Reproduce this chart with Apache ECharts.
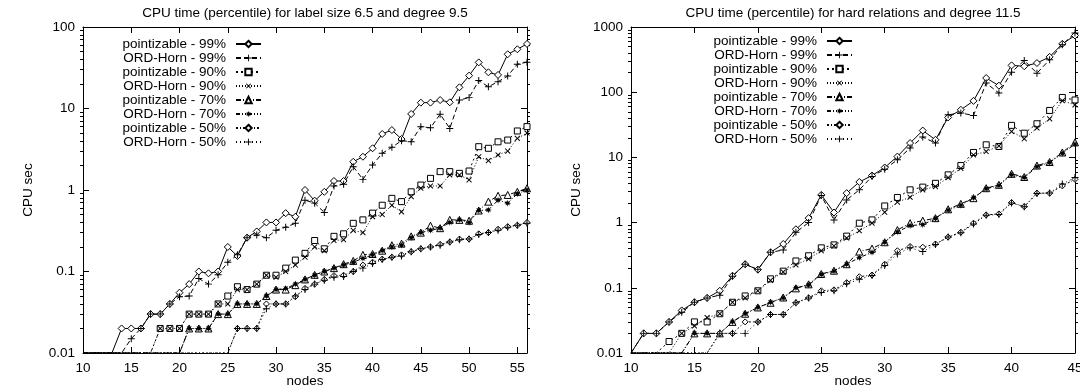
<!DOCTYPE html>
<html>
<head>
<meta charset="utf-8">
<script src="https://cdn.jsdelivr.net/npm/echarts@6/dist/echarts.min.js"></script>
<style>
  html, body { margin: 0; padding: 0; background: #fff; }
  #chart { width: 1080px; height: 390px; }
</style>
</head>
<body>
<div id="chart"></div>
<script>
// left plot: label size 6.5, degree 9.5
var nodesL = [10, 11, 12, 13, 14, 15, 16, 17, 18, 19, 20, 21, 22, 23, 24, 25, 26, 27, 28, 29,
  30, 31, 32, 33, 34, 35, 36, 37, 38, 39, 40, 41, 42, 43, 44, 45, 46, 47, 48, 49, 50, 51, 52, 53, 54, 55, 56];
var p99L = [0.01, 0.01, 0.01, 0.01, 0.02, 0.02, 0.02, 0.03, 0.03, 0.04,
  0.055, 0.07, 0.1, 0.095, 0.1, 0.2, 0.155, 0.26, 0.31, 0.4,
  0.4, 0.52, 0.47, 1.0, 0.74, 0.95, 1.29, 1.29, 2.22, 2.56,
  3.25, 4.87, 5.44, 4.22, 8.57, 11.8, 11.8, 12.7, 11.9, 18.2,
  25.3, 36.8, 27.8, 25.8, 46.3, 53.3, 62];
var o99L = [0.01, 0.01, 0.01, 0.01, 0.01, 0.015, 0.02, 0.03, 0.03, 0.04,
  0.049, 0.05, 0.082, 0.07, 0.091, 0.13, 0.16, 0.26, 0.28, 0.26,
  0.32, 0.35, 0.39, 0.75, 0.69, 0.53, 1.12, 1.18, 1.93, 1.35,
  2.03, 2.82, 3.34, 4.03, 3.92, 5.99, 5.8, 8.5, 5.7, 12.7,
  13.6, 22, 18.5, 21.3, 25, 35, 37];
var p90L = [0.01, 0.01, 0.01, 0.01, 0.01, 0.01, 0.01, 0.01, 0.02, 0.02,
  0.02, 0.03, 0.03, 0.03, 0.04, 0.05, 0.065, 0.06, 0.07, 0.09,
  0.09, 0.11, 0.138, 0.167, 0.24, 0.19, 0.27, 0.29, 0.39, 0.43,
  0.52, 0.65, 0.79, 0.72, 0.95, 1.15, 1.39, 1.68, 1.68, 1.6,
  1.71, 3.4, 3.25, 3.9, 4.1, 5.3, 6.0];
var o90L = [0.01, 0.01, 0.01, 0.01, 0.01, 0.01, 0.01, 0.01, 0.02, 0.02,
  0.02, 0.03, 0.03, 0.03, 0.04, 0.04, 0.06, 0.06, 0.07, 0.09,
  0.085, 0.1, 0.12, 0.15, 0.2, 0.18, 0.24, 0.245, 0.32, 0.3,
  0.47, 0.5, 0.65, 0.54, 0.83, 1.05, 1.12, 1.12, 1.53, 1.53,
  1.33, 2.56, 2.29, 2.69, 3.0, 4.3, 5.0];
var p70L = [0.01, 0.01, 0.01, 0.01, 0.01, 0.01, 0.01, 0.01, 0.01, 0.01,
  0.01, 0.02, 0.02, 0.02, 0.03, 0.03, 0.04, 0.04, 0.04, 0.05,
  0.06, 0.06, 0.068, 0.08, 0.091, 0.1, 0.11, 0.123, 0.135, 0.16,
  0.164, 0.18, 0.21, 0.22, 0.27, 0.3, 0.365, 0.34, 0.43, 0.43,
  0.42, 0.56, 0.72, 0.85, 0.87, 0.95, 1.05];
var o70L = [0.01, 0.01, 0.01, 0.01, 0.01, 0.01, 0.01, 0.01, 0.01, 0.01,
  0.01, 0.02, 0.02, 0.02, 0.03, 0.03, 0.04, 0.04, 0.04, 0.05,
  0.06, 0.062, 0.07, 0.08, 0.09, 0.1, 0.11, 0.12, 0.13, 0.145,
  0.16, 0.18, 0.2, 0.21, 0.26, 0.3, 0.32, 0.34, 0.4, 0.43,
  0.4, 0.56, 0.57, 0.75, 0.69, 0.9, 1.0];
var p50L = [0.01, 0.01, 0.01, 0.01, 0.01, 0.01, 0.01, 0.01, 0.01, 0.01,
  0.01, 0.01, 0.01, 0.01, 0.01, 0.01, 0.02, 0.02, 0.02, 0.04,
  0.04, 0.04, 0.049, 0.062, 0.07, 0.08, 0.089, 0.09, 0.1, 0.12,
  0.13, 0.142, 0.15, 0.16, 0.175, 0.19, 0.2, 0.215, 0.23, 0.25,
  0.25, 0.29, 0.3, 0.33, 0.355, 0.37, 0.4];
var o50L = [0.01, 0.01, 0.01, 0.01, 0.01, 0.01, 0.01, 0.01, 0.01, 0.01,
  0.01, 0.01, 0.01, 0.01, 0.01, 0.01, 0.02, 0.02, 0.02, 0.035,
  0.04, 0.04, 0.05, 0.06, 0.07, 0.078, 0.085, 0.087, 0.1, 0.11,
  0.125, 0.14, 0.15, 0.155, 0.175, 0.19, 0.2, 0.21, 0.23, 0.245,
  0.25, 0.285, 0.3, 0.32, 0.35, 0.37, 0.39];

// right plot: hard relations, degree 11.5
var nodesR = [10, 11, 12, 13, 14, 15, 16, 17, 18, 19, 20, 21, 22, 23, 24, 25, 26, 27,
  28, 29, 30, 31, 32, 33, 34, 35, 36, 37, 38, 39, 40, 41, 42, 43, 44, 45];
var p99R = [0.01, 0.02, 0.02, 0.03, 0.045, 0.06, 0.07, 0.09, 0.153, 0.23,
  0.19, 0.35, 0.47, 0.79, 1.17, 2.66, 1.43, 2.83, 4.2, 5.27,
  7.0, 10.3, 16.6, 25.8, 18.6, 41, 53.7, 73.6, 165, 126,
  258, 250, 280, 348, 552, 740];
var o99R = [0.01, 0.02, 0.02, 0.03, 0.042, 0.06, 0.07, 0.077, 0.15, 0.23,
  0.19, 0.35, 0.38, 0.71, 1.0, 2.6, 1.1, 2.23, 3.18, 5.1,
  6.6, 9.2, 13.9, 20.5, 16.6, 45, 48, 44, 138, 97,
  203, 307, 196, 315, 535, 810];
var p90R = [0.01, 0.01, 0.01, 0.015, 0.02, 0.03, 0.03, 0.04, 0.06, 0.075,
  0.09, 0.137, 0.18, 0.258, 0.31, 0.41, 0.455, 0.62, 0.98, 1.1,
  1.8, 2.43, 3.18, 3.5, 4.0, 5.4, 7.5, 11.9, 15.6, 14.7,
  31, 23.5, 32.8, 52.5, 83, 76];
var o90R = [0.01, 0.01, 0.01, 0.01, 0.02, 0.026, 0.035, 0.04, 0.06, 0.07,
  0.09, 0.13, 0.175, 0.225, 0.277, 0.37, 0.44, 0.58, 0.75, 0.98,
  1.44, 2.06, 2.45, 3.18, 3.57, 4.9, 6.8, 10.9, 12.3, 15,
  25, 19.3, 28.3, 39, 74, 64];
var p70R = [0.01, 0.01, 0.01, 0.01, 0.01, 0.02, 0.02, 0.02, 0.03, 0.04,
  0.05, 0.059, 0.071, 0.098, 0.113, 0.163, 0.183, 0.23, 0.36, 0.4,
  0.5, 0.77, 0.98, 1.07, 1.17, 1.6, 1.94, 2.37, 3.37, 3.8,
  5.6, 5.0, 7.5, 8.5, 11.9, 17];
var o70R = [0.01, 0.01, 0.01, 0.01, 0.01, 0.02, 0.02, 0.02, 0.03, 0.04,
  0.05, 0.06, 0.07, 0.1, 0.11, 0.16, 0.18, 0.23, 0.29, 0.35,
  0.5, 0.72, 0.9, 0.93, 1.15, 1.55, 1.85, 2.4, 3.3, 3.7,
  5.4, 4.9, 7.2, 8.3, 11.5, 16];
var p50R = [0.01, 0.01, 0.01, 0.01, 0.01, 0.01, 0.01, 0.02, 0.02, 0.03,
  0.03, 0.039, 0.039, 0.059, 0.07, 0.09, 0.093, 0.12, 0.148, 0.157,
  0.23, 0.37, 0.43, 0.42, 0.47, 0.6, 0.71, 0.98, 1.31, 1.36,
  2.03, 1.76, 2.83, 2.83, 3.66, 4.6];
var o50R = [0.01, 0.01, 0.01, 0.01, 0.01, 0.01, 0.01, 0.02, 0.02, 0.02,
  0.03, 0.039, 0.039, 0.059, 0.07, 0.085, 0.09, 0.115, 0.135, 0.155,
  0.22, 0.33, 0.41, 0.36, 0.46, 0.6, 0.7, 0.95, 1.3, 1.33,
  2.0, 1.75, 2.8, 2.85, 3.9, 4.9];

var names = ['pointizable - 99%', 'ORD-Horn - 99%', 'pointizable - 90%', 'ORD-Horn - 90%',
  'pointizable - 70%', 'ORD-Horn - 70%', 'pointizable - 50%', 'ORD-Horn - 50%'];
var decadesL = [0.01, 0.1, 1, 10, 100];
var decadesR = [0.01, 0.1, 1, 10, 100, 1000];
var minorSteps = [2, 3, 4, 5, 6, 7, 8, 9];

var FONT = "'Liberation Sans', Arial, Helvetica, sans-serif";
var FS = 13.5;
var PLOT_W = 444;
var plus = 'path://M4.3,0H5.7V4.3H10V5.7H5.7V10H4.3V5.7H0V4.3H4.3Z';

function starPath() {
  var pts = [];
  for (var k = 0; k < 16; k++) {
    var r = k % 2 === 0 ? 5 : 2.2;
    var a = Math.PI * k / 8;
    pts.push((5 + r * Math.sin(a)).toFixed(2) + ',' + (5 - r * Math.cos(a)).toFixed(2));
  }
  return 'path://M' + pts.join('L') + 'Z';
}

var looks = [
  { type: 'solid', symbol: 'diamond', open: true, size: 7 },
  { type: [5, 3], symbol: plus, size: 7 },
  { type: [2, 3], symbol: 'rect', open: true, size: 6 },
  { type: [1, 2], symbol: plus, rotate: 45, size: 7 },
  { type: [5, 2, 1, 2], symbol: 'triangle', open: true, size: 7 },
  { type: [4, 2, 1, 2, 1, 2], symbol: starPath(), size: 7 },
  { type: [2, 2, 1, 2], symbol: 'diamond', open: true, size: 6 },
  { type: [1, 3], symbol: plus, size: 7 }
];

// points sitting on the bottom border are not marked (as in gnuplot)
function makeSeries(nodes, lists, xi, yi, ymin) {
  return lists.map(function (vals, i) {
    var lk = looks[i];
    return {
      name: names[i],
      type: 'line',
      xAxisIndex: xi,
      yAxisIndex: yi,
      data: nodes.map(function (n, j) {
        var d = { value: [n, vals[j]] };
        if (vals[j] <= ymin) d.symbol = 'none';
        return d;
      }),
      symbol: lk.symbol,
      symbolSize: lk.size,
      symbolRotate: lk.rotate || 0,
      lineStyle: { color: '#000', width: 1, type: lk.type },
      itemStyle: { color: lk.open ? '#fff' : '#000', borderColor: '#000', borderWidth: lk.open ? 1 : 0 },
      emphasis: { disabled: true },
      animation: false
    };
  });
}

function minorTicks(decades) {
  var out = [];
  decades.slice(0, -1).forEach(function (d) {
    minorSteps.forEach(function (s) { out.push(Math.log10(d * s)); });
  });
  return out;
}

var txt = { color: '#000', fontFamily: FONT, fontSize: FS };

function xAxes(grid, max) {
  var base = {
    type: 'value', gridIndex: grid, min: 10, max: max, interval: 5,
    splitLine: { show: false },
    axisLine: { show: true, onZero: false, lineStyle: { color: '#000', width: 1 } },
    axisTick: { show: true, inside: true, length: 6, lineStyle: { color: '#000' } }
  };
  return [
    Object.assign({}, base, {
      position: 'bottom',
      name: 'nodes', nameLocation: 'middle', nameGap: 21, nameMoveOverlap: false, nameTextStyle: txt,
      axisLabel: Object.assign({ margin: 8, formatter: function (v) { return v % 5 === 0 ? String(v) : ''; } }, txt)
    }),
    Object.assign({}, base, { position: 'top', axisLabel: { show: false } })
  ];
}

function yAxes(grid, decades) {
  var min = decades[0], max = decades[decades.length - 1];
  var major = {
    type: 'log', logBase: 10, gridIndex: grid, min: min, max: max,
    splitLine: { show: false },
    axisLine: { show: true, onZero: false, lineStyle: { color: '#000', width: 1 } },
    axisTick: { show: true, inside: true, length: 6, lineStyle: { color: '#000' } }
  };
  // minor log ticks (2..9 of each decade); the axes are swapped to the
  // opposite border with an offset so that their ticks point into the plot
  var minor = {
    type: 'value', gridIndex: grid, min: Math.log10(min), max: Math.log10(max),
    offset: -PLOT_W,
    splitLine: { show: false }, axisLabel: { show: false },
    axisLine: { show: false, onZero: false },
    axisTick: { show: true, inside: true, length: 3, lineStyle: { color: '#000' }, customValues: minorTicks(decades) }
  };
  return [
    Object.assign({}, major, {
      position: 'left',
      name: 'CPU sec', nameLocation: 'middle', nameRotate: 90, nameGap: 48, nameMoveOverlap: false, nameTextStyle: txt,
      axisLabel: Object.assign({ margin: 8, formatter: function (v) { return String(+(+v).toPrecision(3)); } }, txt)
    }),
    Object.assign({}, major, { position: 'right', axisLabel: { show: false } }),
    Object.assign({}, minor, { position: 'right' }),
    Object.assign({}, minor, { position: 'left' })
  ];
}

function legendAt(right, top) {
  return {
    orient: 'vertical', align: 'right', right: right, top: top, padding: 0,
    itemGap: 0, itemWidth: 25, itemHeight: 8, selectedMode: false,
    data: names,
    textStyle: Object.assign({ lineHeight: 13.6, padding: [0, 5, 0, 0] }, txt)
  };
}

var chart = echarts.init(document.getElementById('chart'), null, { renderer: 'canvas' });
chart.setOption({
  animation: false,
  backgroundColor: '#fff',
  title: [
    { text: 'CPU time (percentile) for label size 6.5 and degree 9.5', left: 305, top: 6, textAlign: 'center', padding: 0,
      textStyle: Object.assign({ fontWeight: 'normal' }, txt) },
    { text: 'CPU time (percentile) for hard relations and degree 11.5', left: 853, top: 6, textAlign: 'center', padding: 0,
      textStyle: Object.assign({ fontWeight: 'normal' }, txt) }
  ],
  legend: [legendAt(818, 37), legendAt(227, 34)],
  grid: [
    { left: 83, top: 27, width: PLOT_W, height: 326, outerBoundsMode: 'none' },
    { left: 631, top: 27, width: PLOT_W, height: 326, outerBoundsMode: 'none' }
  ],
  xAxis: xAxes(0, 56).concat(xAxes(1, 45)),
  yAxis: yAxes(0, decadesL).concat(yAxes(1, decadesR)),
  series: makeSeries(nodesL, [p99L, o99L, p90L, o90L, p70L, o70L, p50L, o50L], 0, 0, decadesL[0])
    .concat(makeSeries(nodesR, [p99R, o99R, p90R, o90R, p70R, o70R, p50R, o50R], 2, 4, decadesR[0]))
});
</script>
</body>
</html>
